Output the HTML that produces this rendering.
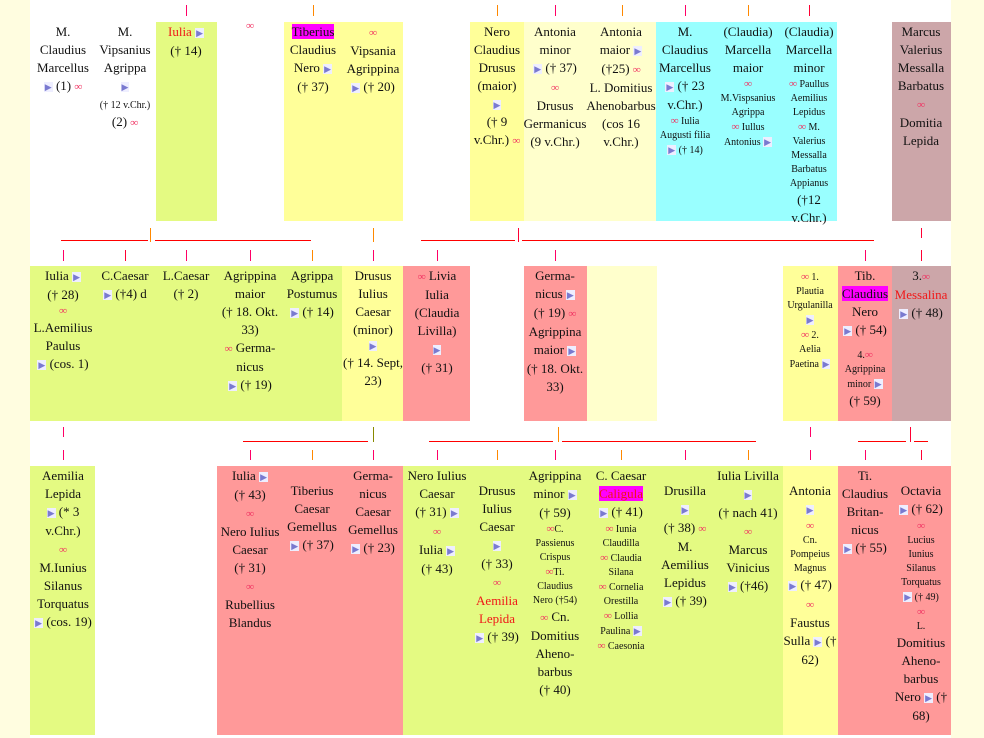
<!DOCTYPE html>
<html><head><meta charset="utf-8"><style>
body{margin:0;width:984px;height:738px;background:#fff;position:relative;overflow:hidden;font-family:"Liberation Serif",serif;font-size:13px;line-height:18px;color:#111}
.b{position:absolute}
.c{position:absolute;width:80px;text-align:center;white-space:nowrap}
.t{font-style:normal;color:#7a7ad0;font-size:9px;background:#eef;padding:0 1px}
.m{font-style:normal;color:#f03060;font-size:11px;font-weight:bold}
.r{color:#f01818}
.g{background:#ff00ff}
.s{font-size:10px;line-height:14px}
.v{position:absolute;width:1px}
.h{position:absolute;height:1px;background:#f00}
</style></head><body>
<div class="b" style="left:0;top:0;width:30px;height:738px;background:#fffde0"></div>
<div class="b" style="left:951px;top:0;width:33px;height:738px;background:#fffde0"></div>
<!-- row1 backgrounds -->
<div class="b" style="left:156px;top:22px;width:61px;height:199px;background:#e4fa82"></div>
<div class="b" style="left:284px;top:22px;width:119px;height:199px;background:#ffff99"></div>
<div class="b" style="left:470px;top:22px;width:54px;height:199px;background:#ffff99"></div>
<div class="b" style="left:524px;top:22px;width:132px;height:199px;background:#ffffcc"></div>
<div class="b" style="left:656px;top:22px;width:181px;height:199px;background:#99ffff"></div>
<div class="b" style="left:892px;top:22px;width:59px;height:199px;background:#cca6a9"></div>
<!-- row2 -->
<div class="b" style="left:30px;top:266px;width:312px;height:155px;background:#e4fa82"></div>
<div class="b" style="left:342px;top:266px;width:61px;height:155px;background:#ffff99"></div>
<div class="b" style="left:403px;top:266px;width:67px;height:155px;background:#ff9999"></div>
<div class="b" style="left:524px;top:266px;width:63px;height:155px;background:#ff9999"></div>
<div class="b" style="left:587px;top:266px;width:70px;height:155px;background:#ffffcc"></div>
<div class="b" style="left:783px;top:266px;width:55px;height:155px;background:#ffff99"></div>
<div class="b" style="left:838px;top:266px;width:54px;height:155px;background:#ff9999"></div>
<div class="b" style="left:892px;top:266px;width:59px;height:155px;background:#cca6a9"></div>
<!-- row3 -->
<div class="b" style="left:30px;top:466px;width:65px;height:269px;background:#e4fa82"></div>
<div class="b" style="left:217px;top:466px;width:186px;height:269px;background:#ff9999"></div>
<div class="b" style="left:403px;top:466px;width:380px;height:269px;background:#e4fa82"></div>
<div class="b" style="left:783px;top:466px;width:55px;height:269px;background:#ffff99"></div>
<div class="b" style="left:838px;top:466px;width:113px;height:269px;background:#ff9999"></div>

<!-- ticks -->
<div class="v" style="left:186px;top:5px;height:11px;background:#f06"></div>
<div class="v" style="left:313px;top:5px;height:11px;background:#f80"></div>
<div class="v" style="left:497px;top:5px;height:11px;background:#f80"></div>
<div class="v" style="left:555px;top:5px;height:11px;background:#f06"></div>
<div class="v" style="left:622px;top:5px;height:11px;background:#f80"></div>
<div class="v" style="left:685px;top:5px;height:11px;background:#f06"></div>
<div class="v" style="left:748px;top:5px;height:11px;background:#f80"></div>
<div class="v" style="left:809px;top:5px;height:11px;background:#f03"></div>

<div class="h" style="left:61px;top:240px;width:87px"></div>
<div class="v" style="left:150px;top:228px;height:14px;background:#f80"></div>
<div class="h" style="left:155px;top:240px;width:156px"></div>
<div class="v" style="left:373px;top:228px;height:14px;background:#f80"></div>
<div class="h" style="left:421px;top:240px;width:94px"></div>
<div class="v" style="left:518px;top:228px;height:14px;background:#f03"></div>
<div class="h" style="left:522px;top:240px;width:352px"></div>
<div class="v" style="left:921px;top:228px;height:10px;background:#f03"></div>

<div class="v" style="left:63px;top:250px;height:11px;background:#f06"></div>
<div class="v" style="left:125px;top:250px;height:11px;background:#f03"></div>
<div class="v" style="left:186px;top:250px;height:11px;background:#f06"></div>
<div class="v" style="left:250px;top:250px;height:11px;background:#f06"></div>
<div class="v" style="left:312px;top:250px;height:11px;background:#f80"></div>
<div class="v" style="left:373px;top:250px;height:11px;background:#f06"></div>
<div class="v" style="left:437px;top:250px;height:11px;background:#f06"></div>
<div class="v" style="left:555px;top:250px;height:11px;background:#f06"></div>
<div class="v" style="left:865px;top:250px;height:11px;background:#f06"></div>
<div class="v" style="left:921px;top:250px;height:11px;background:#f03"></div>

<div class="v" style="left:63px;top:427px;height:10px;background:#f06"></div>
<div class="v" style="left:810px;top:427px;height:10px;background:#f06"></div>
<div class="h" style="left:243px;top:441px;width:125px"></div>
<div class="v" style="left:373px;top:427px;height:15px;background:#880"></div>
<div class="h" style="left:429px;top:441px;width:124px"></div>
<div class="v" style="left:558px;top:427px;height:15px;background:#f80"></div>
<div class="h" style="left:562px;top:441px;width:194px"></div>
<div class="h" style="left:858px;top:441px;width:48px"></div>
<div class="v" style="left:910px;top:427px;height:15px;background:#f03"></div>
<div class="h" style="left:914px;top:441px;width:14px"></div>

<div class="v" style="left:63px;top:450px;height:10px;background:#f06"></div>
<div class="v" style="left:250px;top:450px;height:10px;background:#f06"></div>
<div class="v" style="left:312px;top:450px;height:10px;background:#f80"></div>
<div class="v" style="left:373px;top:450px;height:10px;background:#f06"></div>
<div class="v" style="left:437px;top:450px;height:10px;background:#f06"></div>
<div class="v" style="left:497px;top:450px;height:10px;background:#f80"></div>
<div class="v" style="left:555px;top:450px;height:10px;background:#f06"></div>
<div class="v" style="left:621px;top:450px;height:10px;background:#f80"></div>
<div class="v" style="left:685px;top:450px;height:10px;background:#f06"></div>
<div class="v" style="left:748px;top:450px;height:10px;background:#f80"></div>
<div class="v" style="left:810px;top:450px;height:10px;background:#f06"></div>
<div class="v" style="left:865px;top:450px;height:10px;background:#f06"></div>
<div class="v" style="left:921px;top:450px;height:10px;background:#f03"></div>

<!-- row1 text -->
<div class="c" style="left:23px;top:23px">M.<br>Claudius<br>Marcellus<br><i class="t">▶</i> (1) <i class="m">∞</i></div>
<div class="c" style="left:85px;top:23px">M.<br>Vipsanius<br>Agrippa<br><span class="s"><i class="t">▶</i><br>(† 12 v.Chr.)</span><br>(2) <i class="m">∞</i></div>
<div class="c" style="left:146px;top:23px"><span class="r">Iulia</span> <i class="t">▶</i><br>(† 14)</div>
<div class="c" style="left:210px;top:16px"><i class="m">∞</i></div>
<div class="c" style="left:273px;top:23px"><span class="g">Tiberius</span><br>Claudius<br>Nero <i class="t">▶</i><br>(† 37)</div>
<div class="c" style="left:333px;top:23px"><i class="m">∞</i><br>Vipsania<br>Agrippina<br><i class="t">▶</i> († 20)</div>
<div class="c" style="left:457px;top:23px">Nero<br>Claudius<br>Drusus<br>(maior)<br><span class="s"><i class="t">▶</i></span><br>(† 9<br>v.Chr.) <i class="m">∞</i></div>
<div class="c" style="left:515px;top:23px">Antonia<br>minor<br><i class="t">▶</i> († 37)<br><i class="m">∞</i><br>Drusus<br>Germanicus<br>(9 v.Chr.)</div>
<div class="c" style="left:581px;top:23px">Antonia<br>maior <i class="t">▶</i><br>(†25) <i class="m">∞</i><br>L. Domitius<br>Ahenobarbus<br>(cos 16<br>v.Chr.)</div>
<div class="c" style="left:645px;top:23px">M.<br>Claudius<br>Marcellus<br><i class="t">▶</i> († 23<br>v.Chr.)<div class="s"><i class="m">∞</i> Iulia<br>Augusti filia<br><i class="t">▶</i> († 14)</div></div>
<div class="c" style="left:708px;top:23px">(Claudia)<br>Marcella<br>maior<div class="s"><i class="m">∞</i><br>M.Vispsanius<br>Agrippa<br><i class="m">∞</i> Iullus<br>Antonius <i class="t">▶</i></div></div>
<div class="c" style="left:769px;top:23px">(Claudia)<br>Marcella<br>minor<div class="s"><i class="m">∞</i> Paullus<br>Aemilius<br>Lepidus<br><i class="m">∞</i> M.<br>Valerius<br>Messalla<br>Barbatus<br>Appianus</div>(†12<br>v.Chr.)</div>
<div class="c" style="left:881px;top:23px">Marcus<br>Valerius<br>Messalla<br>Barbatus<br><i class="m">∞</i><br>Domitia<br>Lepida</div>

<!-- row2 text -->
<div class="c" style="left:23px;top:267px">Iulia <i class="t">▶</i><br>(† 28)<div class="s"><i class="m">∞</i></div>L.Aemilius<br>Paulus<br><i class="t">▶</i> (cos. 1)</div>
<div class="c" style="left:85px;top:267px">C.Caesar<br><i class="t">▶</i> (†4) d</div>
<div class="c" style="left:146px;top:267px">L.Caesar<br>(† 2)</div>
<div class="c" style="left:210px;top:267px">Agrippina<br>maior<br>(† 18. Okt.<br>33)<br><i class="m">∞</i> Germa-<br>nicus<br><i class="t">▶</i> († 19)</div>
<div class="c" style="left:272px;top:267px">Agrippa<br>Postumus<br><i class="t">▶</i> († 14)</div>
<div class="c" style="left:333px;top:267px">Drusus<br>Iulius<br>Caesar<br>(minor)<div class="s"><i class="t">▶</i></div>(† 14. Sept,<br>23)</div>
<div class="c" style="left:397px;top:267px"><i class="m">∞</i> Livia<br>Iulia<br>(Claudia<br>Livilla)<br><i class="t">▶</i><br>(† 31)</div>
<div class="c" style="left:515px;top:267px">Germa-<br>nicus <i class="t">▶</i><br>(† 19) <i class="m">∞</i><br>Agrippina<br>maior <i class="t">▶</i><br>(† 18. Okt.<br>33)</div>
<div class="c s" style="left:770px;top:270px"><i class="m">∞</i> 1.<br>Plautia<br>Urgulanilla<br><i class="t">▶</i><br><i class="m">∞</i> 2.<br>Aelia<br>Paetina <i class="t">▶</i></div>
<div class="c" style="left:825px;top:267px">Tib.<br><span class="g">Claudius</span><br>Nero<br><i class="t">▶</i> († 54)<div class="s" style="margin-top:8px">4.<i class="m">∞</i><br>Agrippina<br>minor <i class="t">▶</i></div>(† 59)</div>
<div class="c" style="left:881px;top:267px">3.<i class="m">∞</i><br><span class="r">Messalina</span><br><i class="t">▶</i> († 48)</div>

<!-- row3 text -->
<div class="c" style="left:23px;top:467px">Aemilia<br>Lepida<br><i class="t">▶</i> (* 3<br>v.Chr.)<br><i class="m">∞</i><br>M.Iunius<br>Silanus<br>Torquatus<br><i class="t">▶</i> (cos. 19)</div>
<div class="c" style="left:210px;top:467px">Iulia <i class="t">▶</i><br>(† 43)<br><i class="m">∞</i><br>Nero Iulius<br>Caesar<br>(† 31)<br><i class="m">∞</i><br>Rubellius<br>Blandus</div>
<div class="c" style="left:272px;top:482px">Tiberius<br>Caesar<br>Gemellus<br><i class="t">▶</i> († 37)</div>
<div class="c" style="left:333px;top:467px">Germa-<br>nicus<br>Caesar<br>Gemellus<br><i class="t">▶</i> († 23)</div>
<div class="c" style="left:397px;top:467px">Nero Iulius<br>Caesar<br>(† 31) <i class="t">▶</i><br><i class="m">∞</i><br>Iulia <i class="t">▶</i><br>(† 43)</div>
<div class="c" style="left:457px;top:482px">Drusus<br>Iulius<br>Caesar<br><i class="t">▶</i><br>(† 33)<br><i class="m">∞</i><br><span class="r">Aemilia<br>Lepida</span><br><i class="t">▶</i> († 39)</div>
<div class="c" style="left:515px;top:467px">Agrippina<br>minor <i class="t">▶</i><br>(† 59)<div class="s"><i class="m">∞</i>C.<br>Passienus<br>Crispus<br><i class="m">∞</i>Ti.<br>Claudius<br>Nero (†54)</div><i class="m">∞</i> Cn.<br>Domitius<br>Aheno-<br>barbus<br>(† 40)</div>
<div class="c" style="left:581px;top:467px">C. Caesar<br><span class="g r">Caligula</span><br><i class="t">▶</i> († 41)<div class="s"><i class="m">∞</i> Iunia<br>Claudilla<br><i class="m">∞</i> Claudia<br>Silana<br><i class="m">∞</i> Cornelia<br>Orestilla<br><i class="m">∞</i> Lollia<br>Paulina <i class="t">▶</i><br><i class="m">∞</i> Caesonia</div></div>
<div class="c" style="left:645px;top:482px">Drusilla<br><i class="t">▶</i><br>(† 38) <i class="m">∞</i><br>M.<br>Aemilius<br>Lepidus<br><i class="t">▶</i> († 39)</div>
<div class="c" style="left:708px;top:467px">Iulia Livilla<br><i class="t">▶</i><br>(† nach 41)<br><i class="m">∞</i><br>Marcus<br>Vinicius<br><i class="t">▶</i> (†46)</div>
<div class="c" style="left:770px;top:482px">Antonia<br><i class="t">▶</i><div class="s"><i class="m">∞</i><br>Cn.<br>Pompeius<br>Magnus</div><i class="t">▶</i> († 47)<br><i class="m">∞</i><br>Faustus<br>Sulla <i class="t">▶</i> (†<br>62)</div>
<div class="c" style="left:825px;top:467px">Ti.<br>Claudius<br>Britan-<br>nicus<br><i class="t">▶</i> († 55)</div>
<div class="c" style="left:881px;top:482px">Octavia<br><i class="t">▶</i> († 62)<div class="s"><i class="m">∞</i><br>Lucius<br>Iunius<br>Silanus<br>Torquatus<br><i class="t">▶</i> († 49)<br><i class="m">∞</i><br>L.</div>Domitius<br>Aheno-<br>barbus<br>Nero <i class="t">▶</i> (†<br>68)</div>
</body></html>
